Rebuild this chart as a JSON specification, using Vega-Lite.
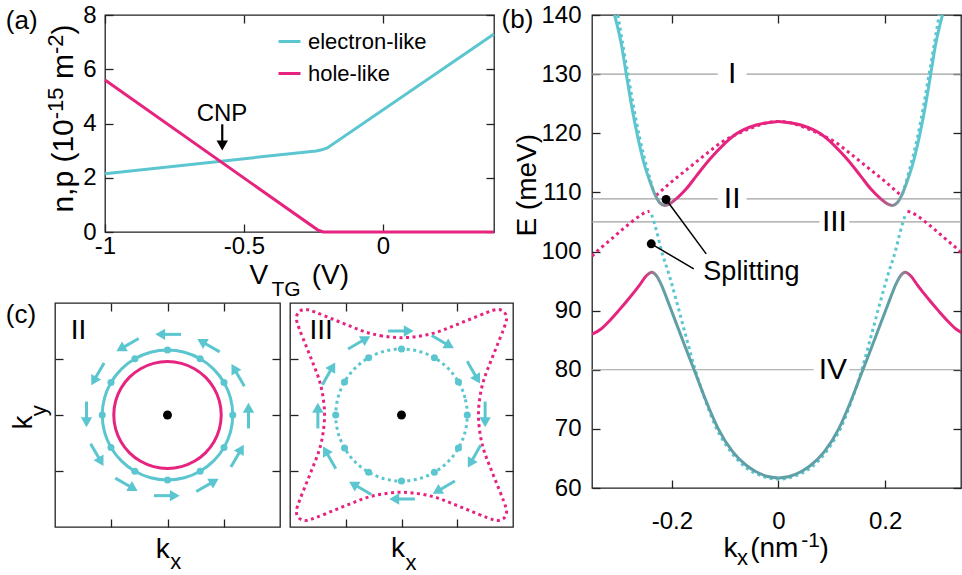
{
"$schema":"https://vega.github.io/schema/vega-lite/v6.json",
"background":"white",
"padding":{"left":5,"top":2,"right":0,"bottom":0},
"config":{
 "font":"Liberation Sans",
 "view":{"stroke":"#222","strokeWidth":1.3},
 "axis":{"domain":false,"grid":false,"tickSize":-8,"tickColor":"#222","tickWidth":1.3,"labelFontSize":24,"labelColor":"#000","labelFont":"Liberation Sans","labelOverlap":false,"labelFlush":false},
 "text":{"font":"Liberation Sans","color":"#000"}
},
"datasets":{
 "spacer":[{"v":0}],
 "aLines":[
  {"V":-1,"n":2.15,"type":"electron-like"},{"V":-0.24,"n":2.99,"type":"electron-like"},{"V":-0.22,"n":3.03,"type":"electron-like"},{"V":-0.2,"n":3.1,"type":"electron-like"},{"V":0.4,"n":7.3,"type":"electron-like"},
  {"V":-1,"n":5.6,"type":"hole-like"},{"V":-0.235,"n":0.08,"type":"hole-like"},{"V":-0.215,"n":0,"type":"hole-like"},{"V":0.4,"n":0,"type":"hole-like"}],
 "aCNP":[{"V":-0.579,"n":4.09,"text":"CNP"}],
 "aArrow":[{"V":-0.578,"n":3.97,"n2":3.33}],
 "aHead":[{"V":-0.578,"n":3.19}],
 "aPanel":[{"V":-1.357,"n":7.5,"text":"(a)"}],
 "aXT":[{"V":-0.48,"n":-1.928,"text":"V"},{"V":-0.2563,"n":-1.928,"text":"(V)"}],
 "aXTs":[{"V":-0.4007,"n":-2.359,"text":"TG"}],
 "aYT":[{"V":-1.1155,"n":0.715,"text":"n,p (10"},{"V":-1.1155,"n":5.638,"text":"m"},{"V":-1.1155,"n":7.282,"text":")"}],
 "aYTs":[{"V":-1.1516,"n":4.158,"text":"-15"},{"V":-1.1516,"n":6.56,"text":"-2"}],
 "bLevels":[
  {"E":130,"k":-0.35,"k2":-0.114},{"E":130,"k":-0.06,"k2":0.3425},
  {"E":108.9,"k":-0.35,"k2":-0.114},{"E":108.9,"k":-0.06,"k2":0.3425},
  {"E":105,"k":-0.35,"k2":0.077},{"E":105,"k":0.133,"k2":0.3425},
  {"E":80,"k":-0.35,"k2":0.066},{"E":80,"k":0.133,"k2":0.3425}],
 "bLevelText":[{"k":-0.087,"E":130,"text":"I"},{"k":-0.087,"E":108.9,"text":"II"},{"k":0.105,"E":105,"text":"III"},{"k":0.102,"E":80,"text":"IV"}],
 "bSolid":[
  {"part":"UL","k":-0.3077,"E":140.0},{"part":"UL","k":-0.295,"E":135.1},{"part":"UL","k":-0.2857,"E":130.0},{"part":"UL","k":-0.2764,"E":125.0},{"part":"UL","k":-0.264,"E":119.3},{"part":"UL","k":-0.2514,"E":114.6},{"part":"UL","k":-0.242,"E":112.0},{"part":"UL","k":-0.2327,"E":109.8},{"part":"UL","k":-0.2233,"E":108.3},{"part":"UL","k":-0.2139,"E":107.8},{"part":"UL","k":-0.2045,"E":108.05},{"part":"UL","k":-0.192,"E":108.9},{"part":"UL","k":-0.173,"E":110.6},{"part":"UL","k":-0.154,"E":112.8},{"part":"UL","k":-0.129,"E":115.6},{"part":"UL","k":-0.104,"E":118.0},{"part":"UL","k":-0.079,"E":119.9},{"part":"UL","k":-0.042,"E":121.4},{"part":"UL","k":0,"E":122.0},
  {"part":"UR","k":0,"E":122.0},{"part":"UR","k":0.042,"E":121.4},{"part":"UR","k":0.079,"E":119.9},{"part":"UR","k":0.104,"E":118.0},{"part":"UR","k":0.129,"E":115.6},{"part":"UR","k":0.154,"E":112.8},{"part":"UR","k":0.173,"E":110.6},{"part":"UR","k":0.192,"E":108.9},{"part":"UR","k":0.2045,"E":108.05},{"part":"UR","k":0.2139,"E":107.8},{"part":"UR","k":0.2233,"E":108.3},{"part":"UR","k":0.2327,"E":109.8},{"part":"UR","k":0.242,"E":112.0},{"part":"UR","k":0.2514,"E":114.6},{"part":"UR","k":0.264,"E":119.3},{"part":"UR","k":0.2764,"E":125.0},{"part":"UR","k":0.2857,"E":130.0},{"part":"UR","k":0.295,"E":135.1},{"part":"UR","k":0.3077,"E":140.0},
  {"part":"LL","k":-0.35,"E":86.0},{"part":"LL","k":-0.333,"E":86.9},{"part":"LL","k":-0.317,"E":88.3},{"part":"LL","k":-0.3,"E":90.0},{"part":"LL","k":-0.2857,"E":91.5},{"part":"LL","k":-0.2608,"E":94.3},{"part":"LL","k":-0.248,"E":95.9},{"part":"LL","k":-0.2375,"E":96.5},{"part":"LL","k":-0.229,"E":95.9},{"part":"LL","k":-0.22,"E":94.4},{"part":"LL","k":-0.209,"E":91.9},{"part":"LL","k":-0.198,"E":89.3},{"part":"LL","k":-0.1764,"E":84.2},{"part":"LL","k":-0.155,"E":79.2},{"part":"LL","k":-0.134,"E":74.3},{"part":"LL","k":-0.113,"E":70.0},{"part":"LL","k":-0.0857,"E":66.1},{"part":"LL","k":-0.06,"E":63.8},{"part":"LL","k":-0.042,"E":62.75},{"part":"LL","k":-0.02,"E":61.95},{"part":"LL","k":0,"E":61.7},
  {"part":"LR","k":0,"E":61.7},{"part":"LR","k":0.02,"E":61.95},{"part":"LR","k":0.042,"E":62.75},{"part":"LR","k":0.06,"E":63.8},{"part":"LR","k":0.0857,"E":66.1},{"part":"LR","k":0.113,"E":70.0},{"part":"LR","k":0.134,"E":74.3},{"part":"LR","k":0.155,"E":79.2},{"part":"LR","k":0.1764,"E":84.2},{"part":"LR","k":0.198,"E":89.3},{"part":"LR","k":0.209,"E":91.9},{"part":"LR","k":0.22,"E":94.4},{"part":"LR","k":0.229,"E":95.9},{"part":"LR","k":0.2375,"E":96.5},{"part":"LR","k":0.248,"E":95.9},{"part":"LR","k":0.2608,"E":94.3},{"part":"LR","k":0.2857,"E":91.5},{"part":"LR","k":0.3,"E":90.0},{"part":"LR","k":0.317,"E":88.3},{"part":"LR","k":0.333,"E":86.9},{"part":"LR","k":0.35,"E":86.0}],
 "bDot":[
  {"seg":"uL","type":"electron-like","k":-0.3015,"E":140},{"seg":"uL","type":"electron-like","k":-0.2827,"E":130},{"seg":"uL","type":"electron-like","k":-0.2608,"E":119.3},{"seg":"uL","type":"electron-like","k":-0.2452,"E":113.6},{"seg":"uL","type":"electron-like","k":-0.2327,"E":109.7},
  {"seg":"uM","type":"hole-like","k":-0.2295,"E":109.5},{"seg":"uM","type":"hole-like","k":-0.2233,"E":110.0},{"seg":"uM","type":"hole-like","k":-0.198,"E":112.0},{"seg":"uM","type":"hole-like","k":-0.173,"E":113.8},{"seg":"uM","type":"hole-like","k":-0.1357,"E":116.5},{"seg":"uM","type":"hole-like","k":-0.1045,"E":118.6},{"seg":"uM","type":"hole-like","k":-0.0794,"E":119.8},{"seg":"uM","type":"hole-like","k":-0.048,"E":121.0},{"seg":"uM","type":"hole-like","k":-0.025,"E":121.7},{"seg":"uM","type":"hole-like","k":0,"E":122.0},{"seg":"uM","type":"hole-like","k":0.025,"E":121.7},{"seg":"uM","type":"hole-like","k":0.048,"E":121.0},{"seg":"uM","type":"hole-like","k":0.0794,"E":119.8},{"seg":"uM","type":"hole-like","k":0.1045,"E":118.6},{"seg":"uM","type":"hole-like","k":0.1357,"E":116.5},{"seg":"uM","type":"hole-like","k":0.173,"E":113.8},{"seg":"uM","type":"hole-like","k":0.198,"E":112.0},{"seg":"uM","type":"hole-like","k":0.2233,"E":110.0},{"seg":"uM","type":"hole-like","k":0.2295,"E":109.5},
  {"seg":"uR","type":"electron-like","k":0.2327,"E":109.7},{"seg":"uR","type":"electron-like","k":0.2452,"E":113.6},{"seg":"uR","type":"electron-like","k":0.2608,"E":119.3},{"seg":"uR","type":"electron-like","k":0.2827,"E":130},{"seg":"uR","type":"electron-like","k":0.3015,"E":140},
  {"seg":"lL","type":"hole-like","k":-0.35,"E":99.2},{"seg":"lL","type":"hole-like","k":-0.336,"E":100.4},{"seg":"lL","type":"hole-like","k":-0.315,"E":102.0},{"seg":"lL","type":"hole-like","k":-0.292,"E":103.8},{"seg":"lL","type":"hole-like","k":-0.2608,"E":106.0},{"seg":"lL","type":"hole-like","k":-0.25,"E":106.6},{"seg":"lL","type":"hole-like","k":-0.242,"E":106.8},
  {"seg":"lM","type":"electron-like","k":-0.238,"E":106.2},{"seg":"lM","type":"electron-like","k":-0.233,"E":104.8},{"seg":"lM","type":"electron-like","k":-0.227,"E":102.8},{"seg":"lM","type":"electron-like","k":-0.221,"E":100.6},{"seg":"lM","type":"electron-like","k":-0.2045,"E":95.8},{"seg":"lM","type":"electron-like","k":-0.189,"E":90.8},{"seg":"lM","type":"electron-like","k":-0.1732,"E":85.5},{"seg":"lM","type":"electron-like","k":-0.157,"E":80.2},{"seg":"lM","type":"electron-like","k":-0.138,"E":75.0},{"seg":"lM","type":"electron-like","k":-0.118,"E":70.4},{"seg":"lM","type":"electron-like","k":-0.09,"E":66.2},{"seg":"lM","type":"electron-like","k":-0.063,"E":63.6},{"seg":"lM","type":"electron-like","k":-0.03,"E":62.0},{"seg":"lM","type":"electron-like","k":0,"E":61.5},{"seg":"lM","type":"electron-like","k":0.03,"E":62.0},{"seg":"lM","type":"electron-like","k":0.063,"E":63.6},{"seg":"lM","type":"electron-like","k":0.09,"E":66.2},{"seg":"lM","type":"electron-like","k":0.118,"E":70.4},{"seg":"lM","type":"electron-like","k":0.138,"E":75.0},{"seg":"lM","type":"electron-like","k":0.157,"E":80.2},{"seg":"lM","type":"electron-like","k":0.1732,"E":85.5},{"seg":"lM","type":"electron-like","k":0.189,"E":90.8},{"seg":"lM","type":"electron-like","k":0.2045,"E":95.8},{"seg":"lM","type":"electron-like","k":0.221,"E":100.6},{"seg":"lM","type":"electron-like","k":0.227,"E":102.8},{"seg":"lM","type":"electron-like","k":0.233,"E":104.8},{"seg":"lM","type":"electron-like","k":0.238,"E":106.2},
  {"seg":"lR","type":"hole-like","k":0.242,"E":106.8},{"seg":"lR","type":"hole-like","k":0.25,"E":106.6},{"seg":"lR","type":"hole-like","k":0.2608,"E":106.0},{"seg":"lR","type":"hole-like","k":0.292,"E":103.8},{"seg":"lR","type":"hole-like","k":0.315,"E":102.0},{"seg":"lR","type":"hole-like","k":0.336,"E":100.4},{"seg":"lR","type":"hole-like","k":0.35,"E":99.2}],
 "bSplitDots":[{"k":-0.211,"E":108.8},{"k":-0.2388,"E":101.3}],
 "bSplitLines":[{"k":-0.211,"E":108.8,"k2":-0.1357,"E2":99.6},{"k":-0.2388,"E":101.3,"k2":-0.159,"E2":97.06}],
 "bSplitText":[{"k":-0.141,"E":95.2,"text":"Splitting"}],
 "bPanel":[{"k":-0.5197,"E":137.8,"text":"(b)"}],
 "bYT":[{"k":-0.4546,"E":111.2,"text":"E (meV)"}],
 "bXT":[{"k":-0.1032,"E":48.38,"text":"k"},{"k":-0.0531,"E":48.29,"text":"(nm"},{"k":0.0769,"E":48.29,"text":")"}],
 "bXTs":[{"k":-0.0779,"E":47.0,"text":"x"}],
 "bXTp":[{"k":0.0425,"E":49.95,"text":"-1"}],
 "c1E":[{"i":0,"x":1.16,"y":0},{"i":1,"x":1.1205,"y":0.3002},{"i":2,"x":1.0046,"y":0.58},{"i":3,"x":0.8202,"y":0.8202},{"i":4,"x":0.58,"y":1.0046},{"i":5,"x":0.3002,"y":1.1205},{"i":6,"x":0,"y":1.16},{"i":7,"x":-0.3002,"y":1.1205},{"i":8,"x":-0.58,"y":1.0046},{"i":9,"x":-0.8202,"y":0.8202},{"i":10,"x":-1.0046,"y":0.58},{"i":11,"x":-1.1205,"y":0.3002},{"i":12,"x":-1.16,"y":0},{"i":13,"x":-1.1205,"y":-0.3002},{"i":14,"x":-1.0046,"y":-0.58},{"i":15,"x":-0.8202,"y":-0.8202},{"i":16,"x":-0.58,"y":-1.0046},{"i":17,"x":-0.3002,"y":-1.1205},{"i":18,"x":0,"y":-1.16},{"i":19,"x":0.3002,"y":-1.1205},{"i":20,"x":0.58,"y":-1.0046},{"i":21,"x":0.8202,"y":-0.8202},{"i":22,"x":1.0046,"y":-0.58},{"i":23,"x":1.1205,"y":-0.3002}],
 "c1H":[{"i":0,"x":0.955,"y":0},{"i":1,"x":0.9224,"y":0.2472},{"i":2,"x":0.827,"y":0.4775},{"i":3,"x":0.6753,"y":0.6753},{"i":4,"x":0.4775,"y":0.827},{"i":5,"x":0.2472,"y":0.9224},{"i":6,"x":0,"y":0.955},{"i":7,"x":-0.2472,"y":0.9224},{"i":8,"x":-0.4775,"y":0.827},{"i":9,"x":-0.6753,"y":0.6753},{"i":10,"x":-0.827,"y":0.4775},{"i":11,"x":-0.9224,"y":0.2472},{"i":12,"x":-0.955,"y":0},{"i":13,"x":-0.9224,"y":-0.2472},{"i":14,"x":-0.827,"y":-0.4775},{"i":15,"x":-0.6753,"y":-0.6753},{"i":16,"x":-0.4775,"y":-0.827},{"i":17,"x":-0.2472,"y":-0.9224},{"i":18,"x":0,"y":-0.955},{"i":19,"x":0.2472,"y":-0.9224},{"i":20,"x":0.4775,"y":-0.827},{"i":21,"x":0.6753,"y":-0.6753},{"i":22,"x":0.827,"y":-0.4775},{"i":23,"x":0.9224,"y":-0.2472}],
 "c1Dots":[{"x":1.16,"y":0},{"x":1.0046,"y":0.58},{"x":0.58,"y":1.0046},{"x":0,"y":1.16},{"x":-0.58,"y":1.0046},{"x":-1.0046,"y":0.58},{"x":-1.16,"y":0},{"x":-1.0046,"y":-0.58},{"x":-0.58,"y":-1.0046},{"x":0,"y":-1.16},{"x":0.58,"y":-1.0046},{"x":1.0046,"y":-0.58}],
 "c1Arrows":[
  {"x":1.44,"y":-0.24,"x2":1.44,"y2":0.06,"hx":1.44,"hy":0.13,"ang":0},
  {"x":1.367,"y":0.512,"x2":1.217,"y2":0.772,"hx":1.182,"hy":0.833,"ang":330},
  {"x":0.928,"y":1.127,"x2":0.668,"y2":1.277,"hx":0.607,"hy":1.312,"ang":300},
  {"x":0.24,"y":1.44,"x2":-0.06,"y2":1.44,"hx":-0.13,"hy":1.44,"ang":270},
  {"x":-0.512,"y":1.367,"x2":-0.772,"y2":1.217,"hx":-0.833,"hy":1.182,"ang":240},
  {"x":-1.127,"y":0.928,"x2":-1.277,"y2":0.668,"hx":-1.312,"hy":0.607,"ang":210},
  {"x":-1.44,"y":0.24,"x2":-1.44,"y2":-0.06,"hx":-1.44,"hy":-0.13,"ang":180},
  {"x":-1.367,"y":-0.512,"x2":-1.217,"y2":-0.772,"hx":-1.182,"hy":-0.833,"ang":150},
  {"x":-0.928,"y":-1.127,"x2":-0.668,"y2":-1.277,"hx":-0.607,"hy":-1.312,"ang":120},
  {"x":-0.24,"y":-1.44,"x2":0.06,"y2":-1.44,"hx":0.13,"hy":-1.44,"ang":90},
  {"x":0.512,"y":-1.367,"x2":0.772,"y2":-1.217,"hx":0.833,"hy":-1.182,"ang":60},
  {"x":1.127,"y":-0.928,"x2":1.277,"y2":-0.668,"hx":1.312,"hy":-0.607,"ang":30}],
 "c2E":[{"i":0,"x":1.18,"y":0},{"i":1,"x":1.1398,"y":0.3054},{"i":2,"x":1.0219,"y":0.59},{"i":3,"x":0.8344,"y":0.8344},{"i":4,"x":0.59,"y":1.0219},{"i":5,"x":0.3054,"y":1.1398},{"i":6,"x":0,"y":1.18},{"i":7,"x":-0.3054,"y":1.1398},{"i":8,"x":-0.59,"y":1.0219},{"i":9,"x":-0.8344,"y":0.8344},{"i":10,"x":-1.0219,"y":0.59},{"i":11,"x":-1.1398,"y":0.3054},{"i":12,"x":-1.18,"y":0},{"i":13,"x":-1.1398,"y":-0.3054},{"i":14,"x":-1.0219,"y":-0.59},{"i":15,"x":-0.8344,"y":-0.8344},{"i":16,"x":-0.59,"y":-1.0219},{"i":17,"x":-0.3054,"y":-1.1398},{"i":18,"x":0,"y":-1.18},{"i":19,"x":0.3054,"y":-1.1398},{"i":20,"x":0.59,"y":-1.0219},{"i":21,"x":0.8344,"y":-0.8344},{"i":22,"x":1.0219,"y":-0.59},{"i":23,"x":1.1398,"y":-0.3054}],
 "c2Dots":[{"x":1.18,"y":0},{"x":1.0219,"y":0.59},{"x":0.59,"y":1.0219},{"x":0,"y":1.18},{"x":-0.59,"y":1.0219},{"x":-1.0219,"y":0.59},{"x":-1.18,"y":0},{"x":-1.0219,"y":-0.59},{"x":-0.59,"y":-1.0219},{"x":0,"y":-1.18},{"x":0.59,"y":-1.0219},{"x":1.0219,"y":-0.59}],
 "c2H":[
  {"i":0,"x":0,"y":1.38},{"i":1,"x":-0.34,"y":1.41},{"i":2,"x":-0.64,"y":1.48},{"i":3,"x":-0.93,"y":1.59},{"i":4,"x":-1.23,"y":1.71},{"i":5,"x":-1.53,"y":1.83},{"i":6,"x":-1.72,"y":1.885},{"i":7,"x":-1.84,"y":1.84},{"i":8,"x":-1.885,"y":1.72},{"i":9,"x":-1.83,"y":1.53},{"i":10,"x":-1.71,"y":1.23},{"i":11,"x":-1.59,"y":0.93},{"i":12,"x":-1.48,"y":0.64},{"i":13,"x":-1.41,"y":0.34},
  {"i":14,"x":-1.38,"y":0},{"i":15,"x":-1.41,"y":-0.34},{"i":16,"x":-1.48,"y":-0.64},{"i":17,"x":-1.59,"y":-0.93},{"i":18,"x":-1.71,"y":-1.23},{"i":19,"x":-1.83,"y":-1.53},{"i":20,"x":-1.885,"y":-1.72},{"i":21,"x":-1.84,"y":-1.84},{"i":22,"x":-1.72,"y":-1.885},{"i":23,"x":-1.53,"y":-1.83},{"i":24,"x":-1.23,"y":-1.71},{"i":25,"x":-0.93,"y":-1.59},{"i":26,"x":-0.64,"y":-1.48},{"i":27,"x":-0.34,"y":-1.41},
  {"i":28,"x":0,"y":-1.38},{"i":29,"x":0.34,"y":-1.41},{"i":30,"x":0.64,"y":-1.48},{"i":31,"x":0.93,"y":-1.59},{"i":32,"x":1.23,"y":-1.71},{"i":33,"x":1.53,"y":-1.83},{"i":34,"x":1.72,"y":-1.885},{"i":35,"x":1.84,"y":-1.84},{"i":36,"x":1.885,"y":-1.72},{"i":37,"x":1.83,"y":-1.53},{"i":38,"x":1.71,"y":-1.23},{"i":39,"x":1.59,"y":-0.93},{"i":40,"x":1.48,"y":-0.64},{"i":41,"x":1.41,"y":-0.34},
  {"i":42,"x":1.38,"y":0},{"i":43,"x":1.41,"y":0.34},{"i":44,"x":1.48,"y":0.64},{"i":45,"x":1.59,"y":0.93},{"i":46,"x":1.71,"y":1.23},{"i":47,"x":1.83,"y":1.53},{"i":48,"x":1.885,"y":1.72},{"i":49,"x":1.84,"y":1.84},{"i":50,"x":1.72,"y":1.885},{"i":51,"x":1.53,"y":1.83},{"i":52,"x":1.23,"y":1.71},{"i":53,"x":0.93,"y":1.59},{"i":54,"x":0.64,"y":1.48},{"i":55,"x":0.34,"y":1.41}],
 "c2Arrows":[
  {"x":1.5,"y":0.24,"x2":1.5,"y2":-0.06,"hx":1.5,"hy":-0.13,"ang":180},
  {"x":1.179,"y":0.958,"x2":1.329,"y2":0.698,"hx":1.364,"hy":0.637,"ang":150},
  {"x":0.542,"y":1.419,"x2":0.802,"y2":1.269,"hx":0.863,"hy":1.234,"ang":120},
  {"x":-0.24,"y":1.5,"x2":0.06,"y2":1.5,"hx":0.13,"hy":1.5,"ang":90},
  {"x":-0.958,"y":1.179,"x2":-0.698,"y2":1.329,"hx":-0.637,"hy":1.364,"ang":60},
  {"x":-1.419,"y":0.542,"x2":-1.269,"y2":0.802,"hx":-1.234,"hy":0.863,"ang":30},
  {"x":-1.5,"y":-0.24,"x2":-1.5,"y2":0.06,"hx":-1.5,"hy":0.13,"ang":0},
  {"x":-1.179,"y":-0.958,"x2":-1.329,"y2":-0.698,"hx":-1.364,"hy":-0.637,"ang":330},
  {"x":-0.542,"y":-1.419,"x2":-0.802,"y2":-1.269,"hx":-0.863,"hy":-1.234,"ang":300},
  {"x":0.24,"y":-1.5,"x2":-0.06,"y2":-1.5,"hx":-0.13,"hy":-1.5,"ang":270},
  {"x":0.958,"y":-1.179,"x2":0.698,"y2":-1.329,"hx":0.637,"hy":-1.364,"ang":240},
  {"x":1.419,"y":-0.542,"x2":1.269,"y2":-0.802,"hx":1.234,"hy":-0.863,"ang":210}],
 "cCenter":[{"x":0,"y":0}],
 "c1Panel":[{"x":-2.876,"y":1.648,"text":"(c)"}],
 "c1Num":[{"x":-1.72,"y":1.353,"text":"II"}],
 "c2Num":[{"x":-1.652,"y":1.354,"text":"III"}],
 "c1XT":[{"x":-0.21,"y":-2.557,"text":"k"}],
 "c1XTs":[{"x":0.048,"y":-2.754,"text":"x"}],
 "c2XT":[{"x":-0.187,"y":-2.537,"text":"k"}],
 "c2XTs":[{"x":0.072,"y":-2.776,"text":"x"}],
 "c1YT":[{"x":-2.402,"y":-0.259,"text":"k"}],
 "c1YTs":[{"x":-2.158,"y":-0.021,"text":"y"}]
},
"resolve":{"scale":{"color":"independent"}},
"spacing":-15,
"hconcat":[
 {"resolve":{"scale":{"color":"independent"}},"spacing":0,"vconcat":[
  {"resolve":{"scale":{"color":"independent"}},"spacing":-51,"hconcat":[
   {"width":1,"height":1,"view":{"stroke":null},"data":{"name":"spacer"},"mark":{"type":"point","opacity":0,"size":0}},
   {"width":389,"height":217,
   "resolve":{"axis":{"x":"independent","y":"independent"}},
   "encoding":{"x":{"field":"V","type":"quantitative","scale":{"domain":[-1,0.4],"nice":false,"zero":false},"axis":null},
               "y":{"field":"n","type":"quantitative","scale":{"domain":[0,8],"nice":false,"zero":false},"axis":null}},
   "layer":[
    {"data":{"name":"aLines"},"mark":{"type":"line","strokeWidth":3},
     "encoding":{
      "x":{"field":"V","type":"quantitative","scale":{"domain":[-1,0.4],"nice":false,"zero":false},"axis":{"orient":"bottom","values":[-1,-0.5,0],"format":"~g","title":null,"labelPadding":10,"labelExpr":"replace(datum.label, '−', '-')"}},
      "y":{"field":"n","type":"quantitative","scale":{"domain":[0,8],"nice":false,"zero":false},"axis":{"orient":"left","values":[0,2,4,6,8],"format":"~g","title":null,"labelPadding":17}},
      "color":{"field":"type","type":"nominal","scale":{"domain":["electron-like","hole-like"],"range":["#5bc6cf","#e6247f"]},
        "legend":{"orient":"none","legendX":172,"legendY":14,"title":null,"symbolType":"stroke","symbolSize":484,"symbolStrokeWidth":3,"labelFontSize":22,"labelColor":"#000","labelFont":"Liberation Sans","rowPadding":8,"labelOffset":6,"labelLimit":0,"padding":0}}}},
    {"data":{"name":"aArrow"},"mark":{"type":"rule","strokeWidth":2.2,"color":"#000"},"encoding":{"y2":{"field":"n2"}}},
    {"data":{"name":"aHead"},"mark":{"type":"point","shape":"triangle-down","filled":true,"size":130,"color":"#000","opacity":1}},
    {"data":{"name":"aCNP"},"mark":{"type":"text","fontSize":24,"align":"center","baseline":"alphabetic"},"encoding":{"text":{"field":"text"}}},
    {"data":{"name":"aPanel"},"mark":{"type":"text","fontSize":26,"align":"left","baseline":"alphabetic"},
     "encoding":{"text":{"field":"text"},
      "x":{"field":"V","type":"quantitative","scale":{"domain":[-1,0.4],"nice":false,"zero":false},"axis":{"orient":"top","values":[-1,-0.5,0],"labels":false,"title":null}},
      "y":{"field":"n","type":"quantitative","scale":{"domain":[0,8],"nice":false,"zero":false},"axis":{"orient":"right","values":[0,2,4,6,8],"labels":false,"title":null}}}},
    {"data":{"name":"aXT"},"mark":{"type":"text","fontSize":28,"align":"left","baseline":"alphabetic"},"encoding":{"text":{"field":"text"}}},
    {"data":{"name":"aXTs"},"mark":{"type":"text","fontSize":21,"align":"left","baseline":"alphabetic"},"encoding":{"text":{"field":"text"}}},
    {"data":{"name":"aYT"},"mark":{"type":"text","fontSize":30,"angle":270,"align":"left","baseline":"alphabetic"},"encoding":{"text":{"field":"text"}}},
    {"data":{"name":"aYTs"},"mark":{"type":"text","fontSize":22,"angle":270,"align":"left","baseline":"alphabetic"},"encoding":{"text":{"field":"text"}}}
   ]}]},
  {"spacing":6,"hconcat":[
   {"width":225,"height":224,
    "resolve":{"axis":{"x":"independent","y":"independent"}},
    "encoding":{"x":{"field":"x","type":"quantitative","scale":{"domain":[-2,2],"nice":false,"zero":false},"axis":null},
                "y":{"field":"y","type":"quantitative","scale":{"domain":[-2,2],"nice":false,"zero":false},"axis":null}},
    "layer":[
     {"data":{"name":"c1E"},"mark":{"type":"line","interpolate":"cardinal-closed","stroke":"#5bc6cf","strokeWidth":3},
      "encoding":{"order":{"field":"i","type":"quantitative"},
       "x":{"field":"x","type":"quantitative","scale":{"domain":[-2,2],"nice":false,"zero":false},"axis":{"orient":"bottom","values":[-1,0,1],"labels":false,"title":null}},
       "y":{"field":"y","type":"quantitative","scale":{"domain":[-2,2],"nice":false,"zero":false},"axis":{"orient":"left","values":[-1,0,1],"labels":false,"title":null}}}},
     {"data":{"name":"c1H"},"mark":{"type":"line","interpolate":"cardinal-closed","stroke":"#e6247f","strokeWidth":3},"encoding":{"order":{"field":"i","type":"quantitative"}}},
     {"data":{"name":"c1Dots"},"mark":{"type":"point","filled":true,"size":50,"color":"#5bc6cf","opacity":1}},
     {"data":{"name":"c1Arrows"},"mark":{"type":"rule","strokeWidth":3,"color":"#5bc6cf"},"encoding":{"x2":{"field":"x2"},"y2":{"field":"y2"}}},
     {"data":{"name":"c1Arrows"},"mark":{"type":"point","shape":"triangle-up","filled":true,"size":130,"color":"#5bc6cf","opacity":1},
      "encoding":{"x":{"field":"hx","type":"quantitative","scale":{"domain":[-2,2],"nice":false,"zero":false},"axis":null},"y":{"field":"hy","type":"quantitative","scale":{"domain":[-2,2],"nice":false,"zero":false},"axis":null},"angle":{"field":"ang","type":"quantitative","scale":null}}},
     {"data":{"name":"cCenter"},"mark":{"type":"point","filled":true,"size":80,"color":"#000","opacity":1},
      "encoding":{
       "x":{"field":"x","type":"quantitative","scale":{"domain":[-2,2],"nice":false,"zero":false},"axis":{"orient":"top","values":[-1,0,1],"labels":false,"title":null}},
       "y":{"field":"y","type":"quantitative","scale":{"domain":[-2,2],"nice":false,"zero":false},"axis":{"orient":"right","values":[-1,0,1],"labels":false,"title":null}}}},
     {"data":{"name":"c1Panel"},"mark":{"type":"text","fontSize":26,"align":"left","baseline":"alphabetic"},"encoding":{"text":{"field":"text"}}},
     {"data":{"name":"c1Num"},"mark":{"type":"text","fontSize":28,"align":"left","baseline":"alphabetic"},"encoding":{"text":{"field":"text"}}},
     {"data":{"name":"c1XT"},"mark":{"type":"text","fontSize":28,"align":"left","baseline":"alphabetic"},"encoding":{"text":{"field":"text"}}},
     {"data":{"name":"c1XTs"},"mark":{"type":"text","fontSize":22,"align":"left","baseline":"alphabetic"},"encoding":{"text":{"field":"text"}}},
     {"data":{"name":"c1YT"},"mark":{"type":"text","fontSize":28,"angle":270,"align":"left","baseline":"alphabetic"},"encoding":{"text":{"field":"text"}}},
     {"data":{"name":"c1YTs"},"mark":{"type":"text","fontSize":22,"angle":270,"align":"left","baseline":"alphabetic"},"encoding":{"text":{"field":"text"}}}
    ]},
   {"width":223,"height":224,
    "resolve":{"axis":{"x":"independent","y":"independent"}},
    "encoding":{"x":{"field":"x","type":"quantitative","scale":{"domain":[-2,2],"nice":false,"zero":false},"axis":null},
                "y":{"field":"y","type":"quantitative","scale":{"domain":[-2,2],"nice":false,"zero":false},"axis":null}},
    "layer":[
     {"data":{"name":"c2H"},"mark":{"type":"line","interpolate":"cardinal-closed","stroke":"#e6247f","strokeWidth":3,"strokeDash":[3,3.5]},
      "encoding":{"order":{"field":"i","type":"quantitative"},
       "x":{"field":"x","type":"quantitative","scale":{"domain":[-2,2],"nice":false,"zero":false},"axis":{"orient":"bottom","values":[-1,0,1],"labels":false,"title":null}},
       "y":{"field":"y","type":"quantitative","scale":{"domain":[-2,2],"nice":false,"zero":false},"axis":{"orient":"left","values":[-1,0,1],"labels":false,"title":null}}}},
     {"data":{"name":"c2E"},"mark":{"type":"line","interpolate":"cardinal-closed","stroke":"#5bc6cf","strokeWidth":3,"strokeDash":[3,3.5]},"encoding":{"order":{"field":"i","type":"quantitative"}}},
     {"data":{"name":"c2Dots"},"mark":{"type":"point","filled":true,"size":50,"color":"#5bc6cf","opacity":1}},
     {"data":{"name":"c2Arrows"},"mark":{"type":"rule","strokeWidth":3,"color":"#5bc6cf"},"encoding":{"x2":{"field":"x2"},"y2":{"field":"y2"}}},
     {"data":{"name":"c2Arrows"},"mark":{"type":"point","shape":"triangle-up","filled":true,"size":130,"color":"#5bc6cf","opacity":1},
      "encoding":{"x":{"field":"hx","type":"quantitative","scale":{"domain":[-2,2],"nice":false,"zero":false},"axis":null},"y":{"field":"hy","type":"quantitative","scale":{"domain":[-2,2],"nice":false,"zero":false},"axis":null},"angle":{"field":"ang","type":"quantitative","scale":null}}},
     {"data":{"name":"cCenter"},"mark":{"type":"point","filled":true,"size":80,"color":"#000","opacity":1},
      "encoding":{
       "x":{"field":"x","type":"quantitative","scale":{"domain":[-2,2],"nice":false,"zero":false},"axis":{"orient":"top","values":[-1,0,1],"labels":false,"title":null}},
       "y":{"field":"y","type":"quantitative","scale":{"domain":[-2,2],"nice":false,"zero":false},"axis":{"orient":"right","values":[-1,0,1],"labels":false,"title":null}}}},
     {"data":{"name":"c2Num"},"mark":{"type":"text","fontSize":28,"align":"left","baseline":"alphabetic"},"encoding":{"text":{"field":"text"}}},
     {"data":{"name":"c2XT"},"mark":{"type":"text","fontSize":28,"align":"left","baseline":"alphabetic"},"encoding":{"text":{"field":"text"}}},
     {"data":{"name":"c2XTs"},"mark":{"type":"text","fontSize":22,"align":"left","baseline":"alphabetic"},"encoding":{"text":{"field":"text"}}}
    ]}
  ]}
 ]},
 {"width":369,"height":473,
  "resolve":{"axis":{"x":"independent","y":"independent"}},
  "encoding":{"x":{"field":"k","type":"quantitative","scale":{"domain":[-0.35,0.3425],"nice":false,"zero":false},"axis":null},
              "y":{"field":"E","type":"quantitative","scale":{"domain":[60,140],"nice":false,"zero":false},"axis":null}},
  "layer":[
   {"data":{"name":"bLevels"},"mark":{"type":"rule","color":"#a0a0a0","strokeWidth":1.2},
    "encoding":{
     "x":{"field":"k","type":"quantitative","scale":{"domain":[-0.35,0.3425],"nice":false,"zero":false},"axis":{"orient":"bottom","values":[-0.2,0,0.2],"format":"~g","title":null,"labelPadding":29,"labelExpr":"replace(datum.label, '−', '-')"}},
     "x2":{"field":"k2"},
     "y":{"field":"E","type":"quantitative","scale":{"domain":[60,140],"nice":false,"zero":false},"axis":{"orient":"left","values":[60,70,80,90,100,110,120,130,140],"title":null,"labelPadding":19}}}},
   {"data":{"name":"bLevelText"},"mark":{"type":"text","fontSize":30,"align":"center","baseline":"middle"},"encoding":{"text":{"field":"text"}}},
   {"data":{"name":"bDot"},"mark":{"type":"line","interpolate":"monotone","strokeWidth":3,"strokeDash":[3,3.5],"clip":true},
    "encoding":{"detail":{"field":"seg"},"color":{"field":"type","type":"nominal","scale":{"domain":["electron-like","hole-like"],"range":["#5bc6cf","#e6247f"]},"legend":null}}},
   {"data":{"name":"bSolid"},"transform":[{"filter":"datum.part === 'UL'"}],
    "mark":{"type":"line","interpolate":"monotone","strokeWidth":3,"clip":true,
     "stroke":{"gradient":"linear","x1":0,"y1":0,"x2":1,"y2":0,"stops":[{"offset":0,"color":"#5bc6cf"},{"offset":0.19,"color":"#5bc6cf"},{"offset":0.25,"color":"#6ea5ab"},{"offset":0.3,"color":"#8a8792"},{"offset":0.34,"color":"#b25a8a"},{"offset":0.4,"color":"#e6247f"},{"offset":1,"color":"#e6247f"}]}}},
   {"data":{"name":"bSolid"},"transform":[{"filter":"datum.part === 'UR'"}],
    "mark":{"type":"line","interpolate":"monotone","strokeWidth":3,"clip":true,
     "stroke":{"gradient":"linear","x1":0,"y1":0,"x2":1,"y2":0,"stops":[{"offset":0,"color":"#e6247f"},{"offset":0.6,"color":"#e6247f"},{"offset":0.66,"color":"#b25a8a"},{"offset":0.7,"color":"#8a8792"},{"offset":0.75,"color":"#6ea5ab"},{"offset":0.81,"color":"#5bc6cf"},{"offset":1,"color":"#5bc6cf"}]}}},
   {"data":{"name":"bSolid"},"transform":[{"filter":"datum.part === 'LL'"}],
    "mark":{"type":"line","interpolate":"monotone","strokeWidth":3,"clip":true,
     "stroke":{"gradient":"linear","x1":0,"y1":0,"x2":1,"y2":0,"stops":[{"offset":0,"color":"#e6247f"},{"offset":0.28,"color":"#e6247f"},{"offset":0.31,"color":"#b25a8a"},{"offset":0.335,"color":"#8a8792"},{"offset":0.36,"color":"#6e9fa5"},{"offset":0.39,"color":"#5f9fa6"},{"offset":1,"color":"#5f9fa6"}]}}},
   {"data":{"name":"bSolid"},"transform":[{"filter":"datum.part === 'LR'"}],
    "mark":{"type":"line","interpolate":"monotone","strokeWidth":3,"clip":true,
     "stroke":{"gradient":"linear","x1":0,"y1":0,"x2":1,"y2":0,"stops":[{"offset":0,"color":"#5f9fa6"},{"offset":0.61,"color":"#5f9fa6"},{"offset":0.64,"color":"#6e9fa5"},{"offset":0.665,"color":"#8a8792"},{"offset":0.69,"color":"#b25a8a"},{"offset":0.72,"color":"#e6247f"},{"offset":1,"color":"#e6247f"}]}}},
   {"data":{"name":"bSplitLines"},"mark":{"type":"rule","strokeWidth":1.5,"color":"#000"},"encoding":{"x2":{"field":"k2"},"y2":{"field":"E2"}}},
   {"data":{"name":"bSplitDots"},"mark":{"type":"point","filled":true,"size":80,"color":"#000","opacity":1}},
   {"data":{"name":"bSplitText"},"mark":{"type":"text","fontSize":27,"align":"left","baseline":"alphabetic"},"encoding":{"text":{"field":"text"}}},
   {"data":{"name":"bPanel"},"mark":{"type":"text","fontSize":26,"align":"left","baseline":"alphabetic"},
    "encoding":{"text":{"field":"text"},
     "x":{"field":"k","type":"quantitative","scale":{"domain":[-0.35,0.3425],"nice":false,"zero":false},"axis":{"orient":"top","values":[-0.2,0,0.2],"labels":false,"title":null}},
     "y":{"field":"E","type":"quantitative","scale":{"domain":[60,140],"nice":false,"zero":false},"axis":{"orient":"right","values":[60,70,80,90,100,110,120,130,140],"labels":false,"title":null}}}},
   {"data":{"name":"bYT"},"mark":{"type":"text","fontSize":28,"angle":270,"align":"center","baseline":"alphabetic"},"encoding":{"text":{"field":"text"}}},
   {"data":{"name":"bXT"},"mark":{"type":"text","fontSize":28,"align":"left","baseline":"alphabetic"},"encoding":{"text":{"field":"text"}}},
   {"data":{"name":"bXTs"},"mark":{"type":"text","fontSize":22,"align":"left","baseline":"alphabetic"},"encoding":{"text":{"field":"text"}}},
   {"data":{"name":"bXTp"},"mark":{"type":"text","fontSize":21,"align":"left","baseline":"alphabetic"},"encoding":{"text":{"field":"text"}}}
  ]}
]
}
